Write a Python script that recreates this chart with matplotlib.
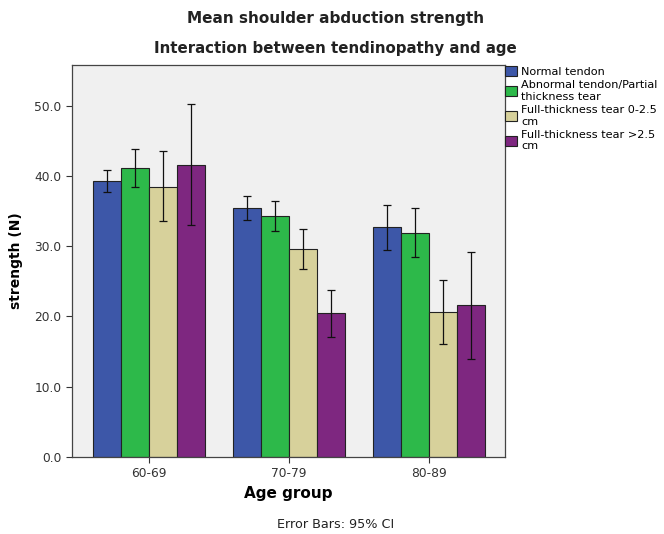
import numpy as np
import matplotlib
matplotlib.use("Agg")
import matplotlib.pyplot as plt

# Daten
age_groups = ["60-69", "70-79", "80-89"]
series = ["Normal tendon",
          "Abnormal tendon/Partial\nthickness tear",
          "Full-thickness tear 0-2.5\ncm",
          "Full-thickness tear >2.5\ncm"]
means = [
    [39.3, 35.4, 32.7],
    [41.2, 34.3, 31.9],
    [38.5, 29.6, 20.7],
    [41.6, 20.5, 21.6],
]
ci_low = [
    [37.7, 33.7, 29.4],
    [38.5, 32.1, 28.4],
    [33.6, 26.7, 16.1],
    [33.0, 17.1, 13.9],
]
ci_high = [
    [40.8, 37.1, 35.8],
    [43.8, 36.5, 35.5],
    [43.5, 32.4, 25.2],
    [50.2, 23.7, 29.2],
]
colors = ["#3D57A8", "#2DB94A", "#D7D19B", "#7E2780"]

fig = plt.figure(figsize=(6.64, 5.34), dpi=100)
ax = fig.add_axes([0.1084, 0.1442, 0.652, 0.7341])
ax.set_facecolor("#F0F0F0")

x = np.arange(len(age_groups))
w = 0.2
for i in range(len(series)):
    m = np.array(means[i])
    lo = m - np.array(ci_low[i])
    hi = np.array(ci_high[i]) - m
    ax.bar(x + (i - 1.5) * w, m, w, color=colors[i], edgecolor="#222222",
           linewidth=0.8, label=series[i], zorder=2)
    ax.errorbar(x + (i - 1.5) * w, m, yerr=[lo, hi], fmt="none",
                ecolor="#111111", elinewidth=0.9, capsize=3, capthick=0.9, zorder=3)

ax.set_xlim(-0.55, 2.543)
ax.set_ylim(0, 55.8)
ax.set_xticks(x)
ax.set_xticklabels(age_groups)
ax.set_yticks([0, 10, 20, 30, 40, 50])
ax.set_yticklabels(["0.0", "10.0", "20.0", "30.0", "40.0", "50.0"])
ax.tick_params(labelsize=8.8, colors="#333333", direction="out", length=4)
for s in ax.spines.values():
    s.set_color("#444444")
    s.set_linewidth(0.9)

ax.set_ylabel("strength (N)", fontsize=10, fontweight="bold", labelpad=8)
ax.set_xlabel("Age group", fontsize=11, fontweight="bold", labelpad=4)

fig.text(0.505, 0.966, "Mean shoulder abduction strength", ha="center", va="center",
         fontsize=11, fontweight="bold", color="#222222")
fig.text(0.505, 0.910, "Interaction between tendinopathy and age", ha="center",
         va="center", fontsize=10.8, fontweight="bold", color="#222222")
fig.text(0.506, 0.017, "Error Bars: 95% CI", ha="center", va="center",
         fontsize=9.2, color="#222222")

fig.legend(loc="upper left", bbox_to_anchor=(0.761, 0.877), frameon=False,
           fontsize=8.1, handlelength=1.0, handleheight=1.0, handletextpad=0.4,
           borderpad=0, borderaxespad=0, labelspacing=0.3)

fig.savefig("out.png", dpi=100)
